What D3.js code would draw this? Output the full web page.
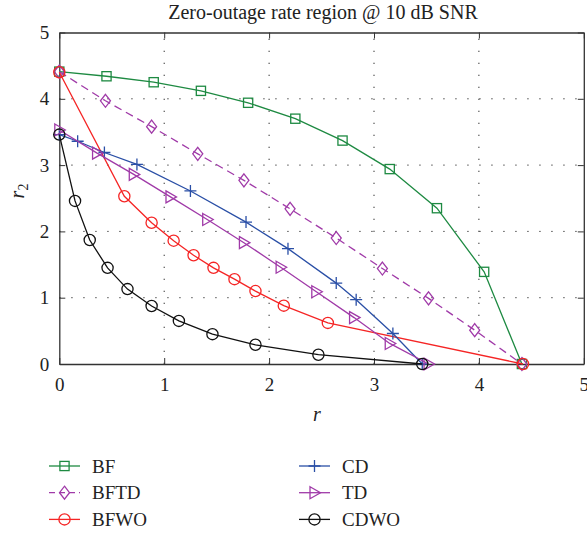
<!DOCTYPE html>
<html>
<head>
<meta charset="utf-8">
<script src="https://cdn.jsdelivr.net/npm/d3@7"></script>
<style>
  html, body { margin: 0; padding: 0; background: #fff; }
  svg { display: block; }
  svg text { font-family: "Liberation Serif", "DejaVu Serif", serif !important; fill: #222; }
</style>
</head>
<body>
<svg id="chart" width="587" height="533"></svg>
<script>
// Rate pairs (r, r2) for each scheme
const bfX   = [0, 0.45, 0.9, 1.35, 1.8, 2.25, 2.7, 3.15, 3.6, 4.05, 4.41];
const bfY   = [4.41, 4.34, 4.25, 4.12, 3.94, 3.70, 3.37, 2.94, 2.35, 1.39, 0];
const bftdX = [0, 0.44, 0.88, 1.32, 1.76, 2.2, 2.64, 3.08, 3.52, 3.96, 4.41];
const bftdY = [4.41, 3.97, 3.58, 3.17, 2.77, 2.34, 1.90, 1.44, 0.99, 0.51, 0];
const bfwoX = [0, 0.62, 0.88, 1.09, 1.28, 1.47, 1.67, 1.87, 2.14, 2.56, 4.42];
const bfwoY = [4.40, 2.53, 2.13, 1.86, 1.64, 1.45, 1.28, 1.10, 0.88, 0.62, 0];
const cdX   = [0, 0.175, 0.43, 0.74, 1.25, 1.78, 2.18, 2.64, 2.83, 3.18, 3.46];
const cdY   = [3.46, 3.36, 3.19, 3.01, 2.61, 2.14, 1.74, 1.22, 0.97, 0.46, 0];
const tdX   = [0, 0.36, 0.71, 1.06, 1.41, 1.76, 2.11, 2.45, 2.81, 3.15, 3.52];
const tdY   = [3.53, 3.18, 2.86, 2.52, 2.18, 1.83, 1.46, 1.09, 0.70, 0.31, 0];
const cdwoX = [0, 0.15, 0.29, 0.46, 0.65, 0.88, 1.14, 1.46, 1.87, 2.47, 3.46];
const cdwoY = [3.46, 2.46, 1.87, 1.45, 1.13, 0.875, 0.65, 0.45, 0.29, 0.14, 0];

const xTicks = [0, 1, 2, 3, 4, 5];
const yTicks = [0, 1, 2, 3, 4, 5];

const series = [
  { name: "BF",   xs: bfX,   ys: bfY,   color: "#1e8a42", marker: "square",   dash: null },
  { name: "BFTD", xs: bftdX, ys: bftdY, color: "#a03aa8", marker: "diamond",  dash: "8,5" },
  { name: "BFWO", xs: bfwoX, ys: bfwoY, color: "#f52525", marker: "circle",   dash: null },
  { name: "CD",   xs: cdX,   ys: cdY,   color: "#2a4fa6", marker: "plus",     dash: null },
  { name: "TD",   xs: tdX,   ys: tdY,   color: "#a03aa8", marker: "triangle", dash: null },
  { name: "CDWO", xs: cdwoX, ys: cdwoY, color: "#111111", marker: "circle",   dash: null }
];

const serif = '"Liberation Serif", "DejaVu Serif", serif';
const svg = d3.select("#chart");
const plotLeft = 59.3, plotRight = 583.8, plotTop = 32.5, plotBottom = 364;

const x = d3.scaleLinear().domain([0, 5]).range([plotLeft, plotRight]);
const y = d3.scaleLinear().domain([0, 5]).range([plotBottom, plotTop]);

// Dotted grid
const grid = svg.append("g").attr("stroke", "#333").attr("stroke-width", 1)
  .attr("stroke-dasharray", "1.3,10.7");
grid.selectAll(".gx").data(xTicks.slice(1, -1)).join("line")
  .attr("x1", d => x(d)).attr("x2", d => x(d)).attr("y1", plotBottom).attr("y2", plotTop);
grid.selectAll(".gy").data(yTicks.slice(1, -1)).join("line")
  .attr("y1", d => y(d)).attr("y2", d => y(d)).attr("x1", plotLeft).attr("x2", plotRight);

// Axes with inward ticks on all four sides
const tickLen = 6;
const fmt = d3.format("d");
const axB = svg.append("g").attr("transform", `translate(0,${plotBottom})`)
  .call(d3.axisBottom(x).tickValues(xTicks).tickSizeInner(-tickLen).tickSizeOuter(0).tickPadding(14).tickFormat(fmt));
const axT = svg.append("g").attr("transform", `translate(0,${plotTop})`)
  .call(d3.axisTop(x).tickValues(xTicks).tickSizeInner(-tickLen).tickSizeOuter(0).tickFormat(""));
const axL = svg.append("g").attr("transform", `translate(${plotLeft},0)`)
  .call(d3.axisLeft(y).tickValues(yTicks).tickSizeInner(-tickLen).tickSizeOuter(0).tickPadding(10).tickFormat(fmt));
const axR = svg.append("g").attr("transform", `translate(${plotRight},0)`)
  .call(d3.axisRight(y).tickValues(yTicks).tickSizeInner(-tickLen).tickSizeOuter(0).tickFormat(""));
[axB, axT, axL, axR].forEach(a => {
  a.attr("font-family", null).style("font-family", serif);
  a.select(".domain").attr("stroke", "#333").attr("stroke-width", 1.3);
  a.selectAll(".tick line").attr("stroke", "#333").attr("stroke-width", 1);
  a.selectAll(".tick text").style("font-family", serif)
    .attr("font-size", 19).attr("fill", "#222");
});

// Marker shapes
function drawMarker(g, kind, cx, cy, color) {
  const s = g.append("g").attr("transform", `translate(${cx},${cy})`)
    .attr("fill", "none").attr("stroke", color).attr("stroke-width", 1.3);
  if (kind === "square") {
    s.append("rect").attr("x", -4.6).attr("y", -4.6).attr("width", 9.2).attr("height", 9.2);
  } else if (kind === "diamond") {
    s.append("path").attr("d", "M0,-6.5L5,0L0,6.5L-5,0Z");
  } else if (kind === "circle") {
    s.append("circle").attr("r", 5.6);
  } else if (kind === "plus") {
    s.append("path").attr("d", "M-6,0H6M0,-6V6");
  } else if (kind === "triangle") {
    s.append("path").attr("d", "M-4.5,-6L6,0L-4.5,6Z");
  }
}

const line = d3.line().x(d => x(d[0])).y(d => y(d[1]));
const plot = svg.append("g");
series.forEach(sr => {
  const pts = sr.xs.map((v, i) => [v, sr.ys[i]]);
  plot.append("path").datum(pts).attr("d", line)
    .attr("fill", "none").attr("stroke", sr.color).attr("stroke-width", 1.3)
    .attr("stroke-dasharray", sr.dash);
  pts.forEach(p => drawMarker(plot, sr.marker, x(p[0]), y(p[1]), sr.color));
});

// Title and axis labels
svg.append("text").attr("x", 323).attr("y", 19).attr("text-anchor", "middle")
  .style("font-family", serif).attr("font-size", 20).text("Zero-outage rate region @ 10 dB SNR");
svg.append("text").attr("x", 317).attr("y", 421).attr("text-anchor", "middle")
  .style("font-family", serif).attr("font-size", 20).attr("font-style", "italic").text("r");
const yl = svg.append("text").attr("transform", "translate(24,191) rotate(-90)")
  .style("font-family", serif).attr("text-anchor", "middle").attr("font-size", 20);
yl.append("tspan").attr("font-style", "italic").text("r");
yl.append("tspan").attr("font-size", 14).attr("dy", 4).text("2");

// Legend, two columns of three
const legend = svg.append("g");
series.forEach((sr, i) => {
  const col = Math.floor(i / 3), row = i % 3;
  const lx = col === 0 ? 49 : 299;
  const ly = 466 + row * 26.7;
  legend.append("line").attr("x1", lx).attr("x2", lx + 31).attr("y1", ly).attr("y2", ly)
    .attr("stroke", sr.color).attr("stroke-width", 1.3).attr("stroke-dasharray", sr.dash ? "6,4" : null);
  drawMarker(legend, sr.marker, lx + 15.5, ly, sr.color);
  legend.append("text").attr("x", lx + 43).attr("y", ly + 6.5)
    .style("font-family", serif).attr("font-size", 19).text(sr.name);
});
</script>
</body>
</html>
